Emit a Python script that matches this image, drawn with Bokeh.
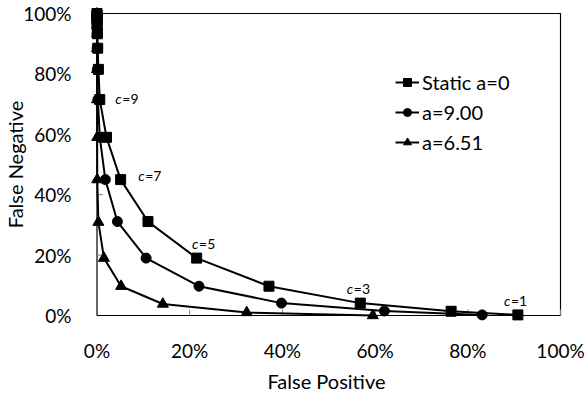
import math
from bokeh.plotting import figure
from bokeh.models import ColumnDataSource, PrintfTickFormatter, FixedTicker, Legend, LegendItem
from bokeh.core.properties import value
from bokeh.embed import file_html
from bokeh.resources import INLINE

# c runs from 17 (top-left) down to 1 (bottom-right)
fn_static = [100, 99.6, 99.0, 98.0, 96.2, 93.3, 88.5, 81.5, 71.5, 59.0, 45.0, 31.1, 19.0, 9.7, 4.1, 1.4, 0.2]
fp_static = [0.0, 0.0, 0.01, 0.02, 0.04, 0.08, 0.15, 0.3, 0.6, 2.05, 5.1, 11.0, 21.5, 37.1, 56.8, 76.4, 90.8]

fn_a900 = [100, 99.6, 99.0, 98.0, 96.2, 93.3, 88.5, 81.5, 71.5, 59.0, 45.0, 31.1, 19.0, 9.7, 4.1, 1.5, 0.2]
fp_a900 = [0.0, 0.0, 0.0, 0.0, 0.0, 0.01, 0.03, 0.08, 0.2, 0.6, 1.8, 4.4, 10.6, 22.0, 39.8, 62.0, 83.1]

fn_a651 = [100, 99.6, 99.0, 98.0, 96.2, 93.3, 88.5, 81.5, 71.5, 59.0, 45.0, 30.9, 19.0, 9.7, 3.8, 1.0, 0.0]
fp_a651 = [0.0, 0.0, 0.0, 0.0, 0.0, 0.0, 0.0, 0.0, 0.01, 0.03, 0.05, 0.3, 1.5, 5.2, 14.2, 32.3, 59.5]

series_names = ["Static a=0", "a=9.00", "a=6.51"]

c_labels = ["9", "7", "5", "3", "1"]
c_label_x = [3.95, 8.9, 20.5, 53.9, 87.8]
c_label_y = [72.0, 46.4, 23.7, 8.8, 5.0]

ticks = [0, 20, 40, 60, 80, 100]

FONT = "Lato"

p = figure(width=586, height=395, x_range=(-1.402, 100.43), y_range=(-1.987, 101.987),
           output_backend="svg", toolbar_location=None,
           min_border_left=90, min_border_right=24, min_border_top=7, min_border_bottom=74)
p.background_fill_color = "white"
p.border_fill_color = "white"
p.grid.visible = False
p.outline_line_color = None

for ax in (p.xaxis[0], p.yaxis[0]):
    ax.ticker = FixedTicker(ticks=ticks)
    ax.formatter = PrintfTickFormatter(format="%d%%")
    ax.major_tick_line_color = None
    ax.minor_tick_line_color = None
    ax.axis_line_color = None
    ax.major_label_text_font = FONT
    ax.major_label_text_font_size = "19px"
    ax.major_label_text_color = "black"
    ax.axis_label_text_font = FONT
    ax.axis_label_text_font_size = "20px"
    ax.axis_label_text_font_style = "normal"
    ax.axis_label_text_color = "black"

p.xaxis.axis_label = "False Positive"
p.yaxis.axis_label = "False Negative"
p.xaxis.major_label_standoff = 11
p.xaxis.axis_label_standoff = 4
p.yaxis.major_label_standoff = 13
p.yaxis.axis_label_standoff = -7

# plot-area box (axes at 0, border at 100%)
p.quad(left=[ticks[0]], right=[ticks[-1]], bottom=[ticks[0]], top=[ticks[-1]],
       fill_color=None, line_color="black", line_width=1.2)
# inward tick marks
p.ray(x=ticks[1:], y=[ticks[0]] * (len(ticks) - 1), length=6, length_units="screen",
      angle=math.pi / 2, line_color="#808080", line_width=1)
p.ray(x=[ticks[0]] * (len(ticks) - 1), y=ticks[1:], length=6, length_units="screen",
      angle=0, line_color="#808080", line_width=1)

items = []
specs = [(fp_static, fn_static, "square", 10),
         (fp_a900, fn_a900, "circle", 10),
         (fp_a651, fn_a651, "triangle", 11)]
for (xs, ys, marker, size), name in zip(specs, series_names):
    src = ColumnDataSource(dict(x=xs, y=ys))
    ln = p.line("x", "y", source=src, line_color="black", line_width=2)
    sc = p.scatter("x", "y", source=src, marker=marker, size=size,
                   fill_color="black", line_color="black")
    items.append(LegendItem(label=name, renderers=[ln, sc]))

legend = Legend(items=items, location=(305, 167))
legend.background_fill_alpha = 0
legend.border_line_alpha = 0
legend.padding = 0
legend.margin = 0
legend.spacing = 6
legend.glyph_width = 24
legend.glyph_height = 20
legend.label_height = 20
legend.label_standoff = 3
legend.label_text_font = FONT
legend.label_text_font_size = "20px"
legend.label_text_color = "black"
p.add_layout(legend, "center")

lsrc = ColumnDataSource(dict(x=c_label_x, y=c_label_y, t=["=" + s for s in c_labels],
                             c=["c"] * len(c_labels)))
p.text("x", "y", text="c", source=lsrc, text_font=value(FONT), text_font_style="italic",
       text_font_size="14px", text_baseline="middle", text_align="left", text_color="black")
p.text("x", "y", text="t", source=lsrc, text_font=value(FONT),
       text_font_size="14px", text_baseline="middle", text_align="left", text_color="black",
       x_offset=7)

open("out.html", "w").write(file_html(p, INLINE))
